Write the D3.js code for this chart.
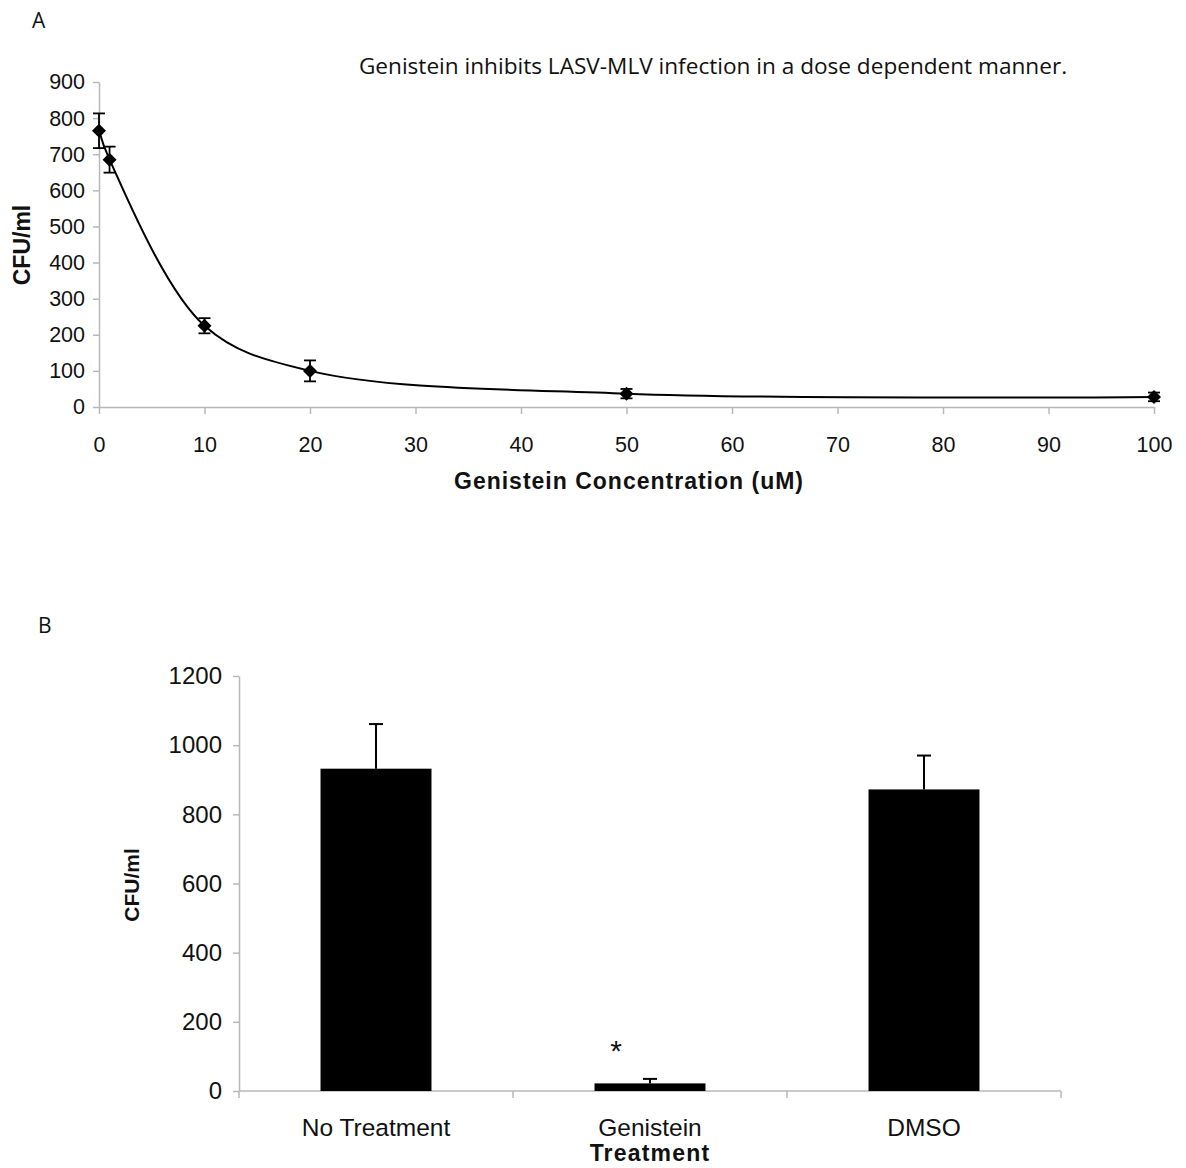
<!DOCTYPE html>
<html><head><meta charset="utf-8">
<script src="https://cdn.jsdelivr.net/npm/d3@7"></script>
<style>
body{margin:0;background:#fff;}
svg text{font-family:"Liberation Sans",Arial,sans-serif;fill:#111;}
.lbl{font-family:"Open Sans",sans-serif !important;}
</style></head>
<body><svg id="c" width="1186" height="1168"></svg>
<script>
// Panel A data
const concA = [0, 1, 10, 20, 50, 100];
const cfuA = [765, 685, 225, 100, 37, 28];
const errA = [48, 36, 21, 29, 13, 12];
const xTicksA = [0,10,20,30,40,50,60,70,80,90,100];
const yTicksA = [0,100,200,300,400,500,600,700,800,900];
// Panel B data
const treatments = ["No Treatment", "Genistein", "DMSO"];
const cfuB = [932, 22, 872];
const errB = [129, 13, 98];
const yTicksB = [0,200,400,600,800,1000,1200];

const svg = d3.select("#c");
const axisColor = "#b8b8b8";

// ---------- Panel A ----------
const xA = d3.scaleLinear().domain([0,100]).range([99,1154]);
const yA = d3.scaleLinear().domain([0,900]).range([407,82]);
const gA = svg.append("g");

svg.append("text").attr("class","lbl").attr("x",32).attr("y",28).attr("font-size",21).text("A");
svg.append("text").attr("class","lbl").attr("x",713).attr("y",74).attr("text-anchor","middle")
  .attr("font-size",22.6).text("Genistein inhibits LASV-MLV infection in a dose dependent manner.");

const axA = gA.append("g").attr("transform",`translate(0,${yA(0)})`)
  .call(d3.axisBottom(xA).tickValues(xTicksA).tickFormat(d3.format("d")).tickSize(7).tickPadding(23).tickSizeOuter(0));
const ayA = gA.append("g").attr("transform",`translate(${xA(0)},0)`)
  .call(d3.axisLeft(yA).tickValues(yTicksA).tickFormat(d3.format("d")).tickSize(6).tickPadding(8).tickSizeOuter(0));
[axA, ayA].forEach(a=>{
  a.selectAll("path,line").attr("stroke",axisColor).attr("stroke-width",1.5);
  a.selectAll("text").attr("font-size",21.5).attr("fill","#111").attr("font-family","Liberation Sans, Arial, sans-serif");
});

gA.append("text").attr("transform",`translate(30,245) rotate(-90)`).attr("text-anchor","middle")
  .attr("font-size",23).attr("font-weight","bold").text("CFU/ml");
gA.append("text").attr("x",629).attr("y",489).attr("text-anchor","middle")
  .attr("font-size",23).attr("font-weight","bold").attr("letter-spacing",1).text("Genistein Concentration (uM)");

const ptsA = concA.map((c,i)=>({c, v:cfuA[i], e:errA[i]}));
gA.append("path").datum(ptsA)
  .attr("fill","none").attr("stroke","#000").attr("stroke-width",2)
  .attr("d", d3.line().x(d=>xA(d.c)).y(d=>yA(d.v)).curve(d3.curveCatmullRom.alpha(0.5)));

const eb = gA.append("g").selectAll("g").data(ptsA).join("g");
eb.append("line").attr("x1",d=>xA(d.c)).attr("x2",d=>xA(d.c))
  .attr("y1",d=>yA(d.v+d.e)).attr("y2",d=>yA(d.v-d.e)).attr("stroke","#000").attr("stroke-width",1.8);
[1,-1].forEach(s=>{
  eb.append("line").attr("x1",d=>xA(d.c)-6).attr("x2",d=>xA(d.c)+6)
    .attr("y1",d=>yA(d.v+s*d.e)).attr("y2",d=>yA(d.v+s*d.e)).attr("stroke","#000").attr("stroke-width",1.8);
});
eb.append("path").attr("d",d=>{
  const x=xA(d.c), y=yA(d.v), r=7;
  return `M${x},${y-r}L${x+r},${y}L${x},${y+r}L${x-r},${y}Z`;
}).attr("fill","#000");

// ---------- Panel B ----------
const xB = d3.scaleBand().domain(treatments).range([239,1061]).paddingInner(0).paddingOuter(0);
const yB = d3.scaleLinear().domain([0,1200]).range([1091,676]);
const gB = svg.append("g");
svg.append("text").attr("class","lbl").attr("x",38).attr("y",633).attr("font-size",21).text("B");

const ayB = gB.append("g").attr("transform",`translate(239,0)`)
  .call(d3.axisLeft(yB).tickValues(yTicksB).tickFormat(d3.format("d")).tickSize(6).tickPadding(11).tickSizeOuter(0));
ayB.selectAll("path,line").attr("stroke",axisColor).attr("stroke-width",1.5);
ayB.selectAll("text").attr("font-size",24).attr("fill","#111").attr("font-family","Liberation Sans, Arial, sans-serif");

const boundaries = [239, ...treatments.map(t=>xB(t)+xB.bandwidth())];
gB.append("line").attr("x1",239).attr("x2",1061).attr("y1",yB(0)).attr("y2",yB(0)).attr("stroke",axisColor).attr("stroke-width",1.5);
gB.selectAll(".bt").data(boundaries).join("line")
  .attr("x1",d=>d).attr("x2",d=>d).attr("y1",yB(0)).attr("y2",yB(0)+7).attr("stroke",axisColor).attr("stroke-width",1.5);

const bw = xB.bandwidth()*0.405;
const ptsB = treatments.map((t,i)=>({t, v:cfuB[i], e:errB[i]}));
gB.selectAll(".eb").data(ptsB).join("g").each(function(d){
  const g=d3.select(this), cx=xB(d.t)+xB.bandwidth()/2;
  g.append("line").attr("x1",cx).attr("x2",cx).attr("y1",yB(d.v)).attr("y2",yB(d.v+d.e)).attr("stroke","#000").attr("stroke-width",2);
  g.append("line").attr("x1",cx-7).attr("x2",cx+7).attr("y1",yB(d.v+d.e)).attr("y2",yB(d.v+d.e)).attr("stroke","#000").attr("stroke-width",2);
});
gB.selectAll(".bar").data(ptsB).join("rect")
  .attr("x",d=>xB(d.t)+xB.bandwidth()/2-bw/2).attr("width",bw)
  .attr("y",d=>yB(d.v)).attr("height",d=>yB(0)-yB(d.v)).attr("fill","#000");

gB.selectAll(".cl").data(treatments).join("text")
  .attr("x",d=>xB(d)+xB.bandwidth()/2).attr("y",1136).attr("text-anchor","middle").attr("font-size",24.5).text(d=>d);
gB.append("text").attr("x",xB("Genistein")+xB.bandwidth()/2).attr("y",1161).attr("text-anchor","middle")
  .attr("font-size",23).attr("font-weight","bold").attr("letter-spacing",1.2).text("Treatment");
gB.append("text").attr("transform",`translate(139,885) rotate(-90)`).attr("text-anchor","middle")
  .attr("font-size",21).attr("font-weight","bold").text("CFU/ml");
gB.append("text").attr("x",616).attr("y",1061).attr("text-anchor","middle").attr("font-size",30).text("*");
</script></body></html>
